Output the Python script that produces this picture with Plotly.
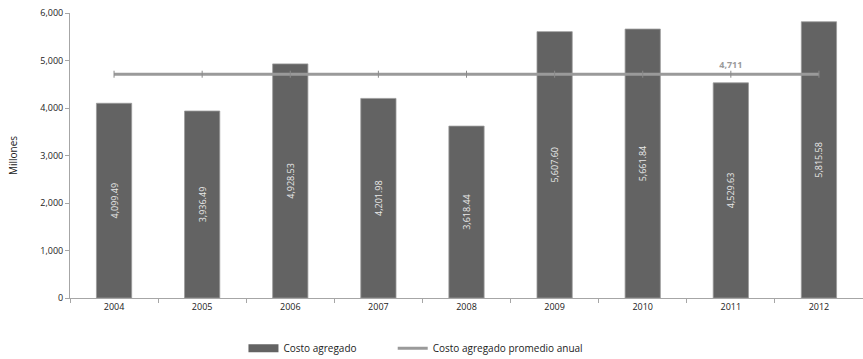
import plotly.graph_objects as go

years = ["2004", "2005", "2006", "2007", "2008", "2009", "2010", "2011", "2012"]
costo_agregado = [4099.49, 3936.49, 4928.53, 4201.98, 3618.44, 5607.60, 5661.84, 4529.63, 5815.58]
promedio = sum(costo_agregado) / len(costo_agregado)
promedio_serie = [promedio] * len(years)
# the average value is labelled once, above the 2011 point
promedio_texto = [f"<b>{promedio:,.0f}</b>" if y == "2011" else "" for y in years]

FONT = "Open Sans"
AXIS_GRAY = "#a6a6a6"
LINE_GRAY = "#9a9a9a"
BAR_GRAY = "#636363"
NBSP = "\u00a0"

fig = go.Figure()

fig.add_trace(go.Bar(
    x=years,
    y=costo_agregado,
    name="Costo agregado",
    marker=dict(color=BAR_GRAY, line=dict(color="#9a9a9a", width=0.8)),
    width=0.4,
    text=[f"{v:,.2f}" for v in costo_agregado],
    textposition="inside",
    insidetextanchor="middle",
    textangle=-90,
    textfont=dict(family=FONT, size=9, color="#e8e8e8"),
    showlegend=False,
))

fig.add_trace(go.Scatter(
    x=years,
    y=promedio_serie,
    name="Costo agregado promedio anual",
    mode="lines+markers+text",
    text=promedio_texto,
    textposition="top center",
    textfont=dict(family=FONT, size=9, color=LINE_GRAY),
    line=dict(color=LINE_GRAY, width=3),
    marker=dict(symbol="line-ns", size=5, color="#8a8a8a", line=dict(color="#8a8a8a", width=1)),
    showlegend=False,
))

# legend keys: a wide flat swatch for the bars and a plain line for the average
fig.add_trace(go.Scatter(
    x=[None], y=[None],
    name="Costo agregado" + NBSP * 12,
    mode="lines",
    line=dict(color=BAR_GRAY, width=8),
))
fig.add_trace(go.Scatter(
    x=[None], y=[None],
    name="Costo agregado promedio anual",
    mode="lines",
    line=dict(color=LINE_GRAY, width=3),
))

fig.update_layout(
    width=863, height=359,
    margin=dict(l=70, r=0, t=13, b=61, autoexpand=False),
    paper_bgcolor="white", plot_bgcolor="white",
    font=dict(family=FONT, size=9, color="#222222"),
    bargap=0.6,
    showlegend=True,
    legend=dict(
        orientation="h",
        xref="container", x=0.482, xanchor="center",
        yref="container", y=0.03, yanchor="middle",
        font=dict(family=FONT, size=10, color="#222222"),
        itemwidth=30, tracegroupgap=0,
    ),
    xaxis=dict(
        type="category",
        showline=True, linecolor=AXIS_GRAY, linewidth=1,
        ticks="outside", ticklen=4, tickcolor=AXIS_GRAY,
        tickson="boundaries",
        showgrid=False,
        tickangle=0,
        tickfont=dict(family=FONT, size=9),
    ),
    yaxis=dict(
        range=[0, 6000], dtick=1000, tickformat=",",
        showline=True, linecolor=AXIS_GRAY, linewidth=1,
        ticks="outside", ticklen=4, tickcolor=AXIS_GRAY,
        showgrid=False, zeroline=False,
        tickfont=dict(family=FONT, size=9),
        title=dict(text="Millones", font=dict(family=FONT, size=10), standoff=20),
    ),
)

fig.write_html("out.html")
